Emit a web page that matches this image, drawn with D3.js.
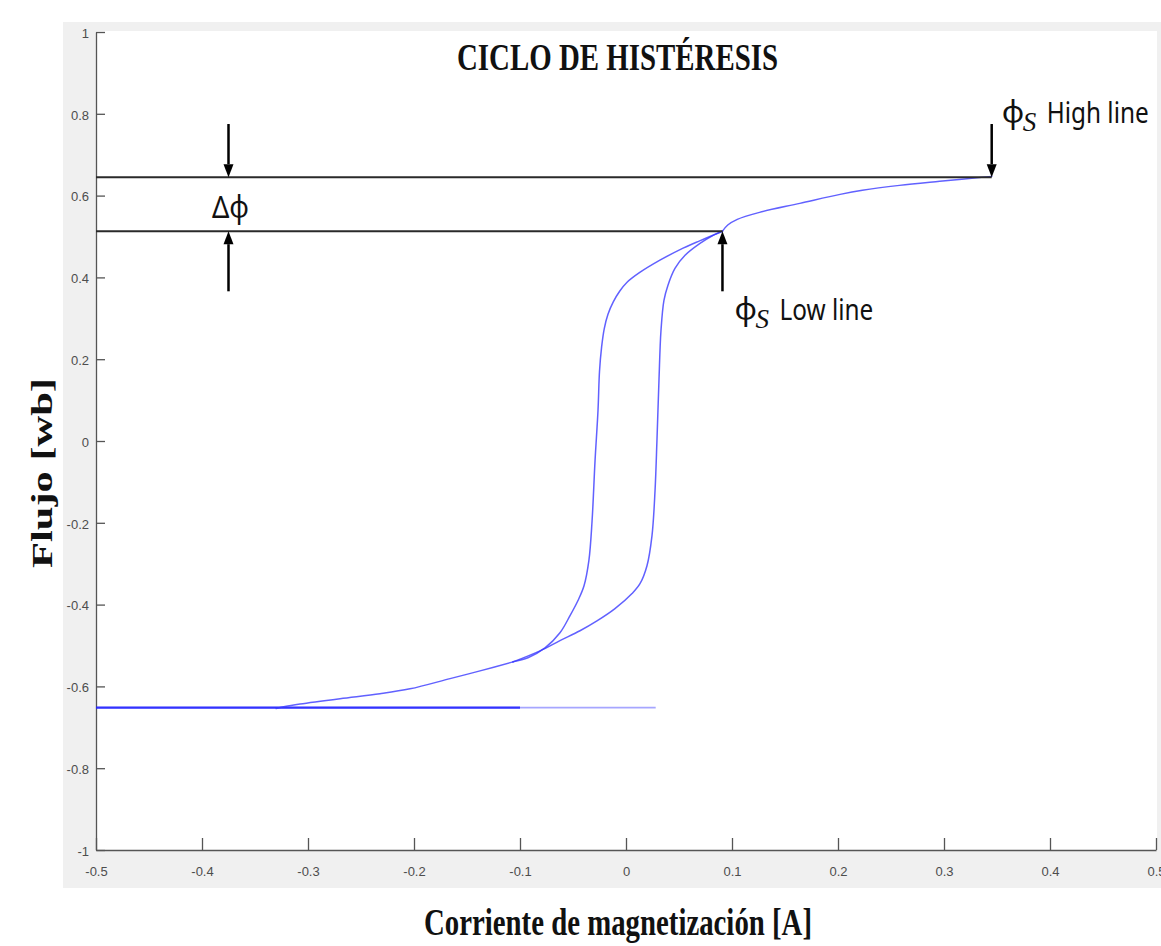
<!DOCTYPE html>
<html>
<head>
<meta charset="utf-8">
<script src="https://cdn.jsdelivr.net/npm/d3@7"></script>
<style>
  html, body { margin: 0; padding: 0; background: #ffffff; }
  svg { display: block; }
</style>
</head>
<body>
<svg id="chart" width="1161" height="946"></svg>
<script>
// Axis ticks
const xTicks = [-0.5, -0.4, -0.3, -0.2, -0.1, 0, 0.1, 0.2, 0.3, 0.4, 0.5];
const xTickLabels = ["-0.5", "-0.4", "-0.3", "-0.2", "-0.1", "0", "0.1", "0.2", "0.3", "0.4", "0.5"];
const yTicks = [-1, -0.8, -0.6, -0.4, -0.2, 0, 0.2, 0.4, 0.6, 0.8, 1];
const yTickLabels = ["-1", "-0.8", "-0.6", "-0.4", "-0.2", "0", "0.2", "0.4", "0.6", "0.8", "1"];

// Hysteresis loop, [current A, flux Wb]
const upperSaturation = [
  [0.345, 0.647], [0.296, 0.635], [0.258, 0.625], [0.223, 0.613], [0.202, 0.603],
  [0.164, 0.581], [0.126, 0.559], [0.105, 0.542], [0.096, 0.528], [0.091, 0.513]
];
const descendingBranch = [
  [0.091, 0.513], [0.070, 0.490], [0.051, 0.468], [0.032, 0.442], [0.013, 0.412],
  [0.001, 0.388], [-0.006, 0.366], [-0.012, 0.340], [-0.017, 0.310], [-0.0205, 0.275],
  [-0.023, 0.230], [-0.025, 0.170], [-0.0264, 0.075], [-0.0292, -0.048], [-0.032, -0.195],
  [-0.035, -0.292], [-0.0396, -0.354], [-0.0453, -0.390], [-0.0528, -0.427], [-0.0623, -0.469],
  [-0.0764, -0.506], [-0.0925, -0.530], [-0.1066, -0.540]
];
const ascendingBranch = [
  [-0.1066, -0.540], [-0.0811, -0.513], [-0.0623, -0.488], [-0.0434, -0.464], [-0.0274, -0.440],
  [-0.0104, -0.410], [0.0057, -0.373], [0.0132, -0.349], [0.0198, -0.305], [0.0245, -0.232],
  [0.0274, -0.121], [0.0292, 0.001], [0.0311, 0.148], [0.033, 0.270], [0.0358, 0.344],
  [0.0396, 0.381], [0.0462, 0.422], [0.0557, 0.454], [0.0698, 0.483], [0.081, 0.501],
  [0.091, 0.513]
];
const lowerSaturation = [
  [-0.1066, -0.540], [-0.1377, -0.562], [-0.166, -0.581], [-0.2038, -0.606], [-0.2321, -0.618],
  [-0.2698, -0.630], [-0.3075, -0.643], [-0.3217, -0.649], [-0.330, -0.654]
];
const floorTrace = [[-0.5, -0.652], [0.028, -0.652]];
const floorTraceRepeat = [[-0.5, -0.652], [-0.1, -0.652]];

// Saturation levels marked on the chart
const phiHigh = 0.645;
const phiHighCurrent = 0.345;
const phiLow = 0.513;
const phiLowCurrent = 0.091;
const deltaMarkerCurrent = -0.375;
const arrowTopFlux = 0.775;
const arrowBottomFlux = 0.366;

const svg = d3.select("#chart");

const x = d3.scaleLinear().domain([-0.5, 0.5]).range([96, 1156]);
const y = d3.scaleLinear().domain([-1, 1]).range([850, 32]);

// Figure background and white axes area
svg.append("rect").attr("x", 63).attr("y", 22).attr("width", 1098).attr("height", 866)
  .attr("fill", "#f0f0f0");
svg.append("rect").attr("x", x(-0.5)).attr("y", 31).attr("width", x(0.5) - x(-0.5) + 1)
  .attr("height", y(-1) - 31).attr("fill", "#ffffff");

// Axes with inward ticks
const axisColor = "#555555";
const gx = svg.append("g").attr("transform", `translate(0,${y(-1)})`)
  .call(d3.axisBottom(x).tickValues(xTicks).tickFormat((d, i) => xTickLabels[i])
    .tickSizeInner(-12).tickSizeOuter(0).tickPadding(17));
const gy = svg.append("g").attr("transform", `translate(${x(-0.5)},0)`)
  .call(d3.axisLeft(y).tickValues(yTicks).tickFormat((d, i) => yTickLabels[i])
    .tickSizeInner(-9).tickSizeOuter(0).tickPadding(7));
[gx, gy].forEach(g => {
  g.select(".domain").attr("stroke", axisColor).attr("stroke-width", 1.3);
  g.selectAll(".tick line").attr("stroke", axisColor).attr("stroke-width", 1.3);
  g.selectAll(".tick text").attr("fill", "#4d4d4d")
    .style("font-family", "'Liberation Sans', Arial, sans-serif").style("font-size", "13px");
});
gy.selectAll(".tick text").attr("dy", "0.4em");

// Hysteresis curve
const smooth = d3.line().x(d => x(d[0])).y(d => y(d[1])).curve(d3.curveCatmullRom.alpha(0.5));
const straight = d3.line().x(d => x(d[0])).y(d => y(d[1]));
const blue = "#3a3aff";

svg.append("path").attr("d", straight(floorTrace)).attr("fill", "none")
  .attr("stroke", blue).attr("stroke-width", 1.6).attr("stroke-opacity", 0.45);
svg.append("path").attr("d", straight(floorTraceRepeat)).attr("fill", "none")
  .attr("stroke", "#1f1fff").attr("stroke-width", 2.4).attr("stroke-opacity", 0.85);

[upperSaturation, descendingBranch, ascendingBranch, lowerSaturation].forEach(seg => {
  svg.append("path").attr("d", smooth(seg)).attr("fill", "none")
    .attr("stroke", blue).attr("stroke-width", 1.5).attr("stroke-opacity", 0.8)
    .attr("stroke-linejoin", "round").attr("stroke-linecap", "round");
});

// Saturation reference lines
svg.append("line").attr("x1", x(-0.5)).attr("x2", x(phiHighCurrent))
  .attr("y1", y(phiHigh)).attr("y2", y(phiHigh)).attr("stroke", "#2a2a2a").attr("stroke-width", 2);
svg.append("line").attr("x1", x(-0.5)).attr("x2", x(phiLowCurrent))
  .attr("y1", y(phiLow)).attr("y2", y(phiLow)).attr("stroke", "#2a2a2a").attr("stroke-width", 2);

// Arrows
function arrow(cx, fromFlux, toFlux) {
  const x0 = x(cx), y0 = y(fromFlux), y1 = y(toFlux);
  const dir = Math.sign(y1 - y0);
  const head = 13, half = 5;
  svg.append("line").attr("x1", x0).attr("x2", x0).attr("y1", y0).attr("y2", y1 - dir * head)
    .attr("stroke", "#000").attr("stroke-width", 2.5);
  svg.append("path")
    .attr("d", `M${x0},${y1} L${x0 - half},${y1 - dir * head} L${x0 + half},${y1 - dir * head} Z`)
    .attr("fill", "#000");
}
arrow(deltaMarkerCurrent, arrowTopFlux, phiHigh);
arrow(deltaMarkerCurrent, arrowBottomFlux, phiLow);
arrow(phiLowCurrent, arrowBottomFlux, phiLow);
arrow(phiHighCurrent, arrowTopFlux, phiHigh);

// Annotation labels (narrow sans set with a horizontal squeeze)
const sans = "'Noto Sans', 'DejaVu Sans', sans-serif";
function phiLabel(px, py, word) {
  svg.append("text").attr("x", px).attr("y", py).text("ϕ")
    .style("font-family", sans).style("font-size", "31px").attr("fill", "#111");
  svg.append("text").attr("x", px + 21).attr("y", py + 8).text("S")
    .style("font-family", "'Liberation Serif', serif").style("font-style", "italic")
    .style("font-size", "27px").attr("fill", "#111");
  svg.append("g").attr("transform", `translate(${px + 45},${py}) scale(0.84,1)`)
    .append("text").attr("x", 0).attr("y", 0).text(word)
    .style("font-family", sans).style("font-size", "29px").attr("fill", "#111");
}
phiLabel(x(phiHighCurrent) + 10, 123, "High line");
phiLabel(x(phiLowCurrent) + 12, 320, "Low line");

svg.append("text").attr("x", 212).attr("y", 218).text("Δϕ")
  .attr("textLength", 37).attr("lengthAdjust", "spacingAndGlyphs")
  .style("font-family", sans).style("font-size", "31px").attr("fill", "#111");

// Titles
const serif = "'Liberation Serif', 'Times New Roman', serif";
svg.append("text").attr("x", 457).attr("y", 70).text("CICLO DE HISTÉRESIS")
  .attr("textLength", 321).attr("lengthAdjust", "spacingAndGlyphs")
  .style("font-family", serif).style("font-weight", "bold").style("font-size", "37px")
  .attr("fill", "#111");
svg.append("text").attr("x", 424).attr("y", 935).text("Corriente de magnetización [A]")
  .attr("textLength", 388).attr("lengthAdjust", "spacingAndGlyphs")
  .style("font-family", serif).style("font-weight", "bold").style("font-size", "38px")
  .attr("fill", "#111");
svg.append("text").attr("transform", "translate(52,568) rotate(-90)").text("Flujo [wb]")
  .attr("textLength", 190).attr("lengthAdjust", "spacingAndGlyphs")
  .style("font-family", serif).style("font-weight", "bold").style("font-size", "29px")
  .attr("fill", "#111");
</script>
</body>
</html>
